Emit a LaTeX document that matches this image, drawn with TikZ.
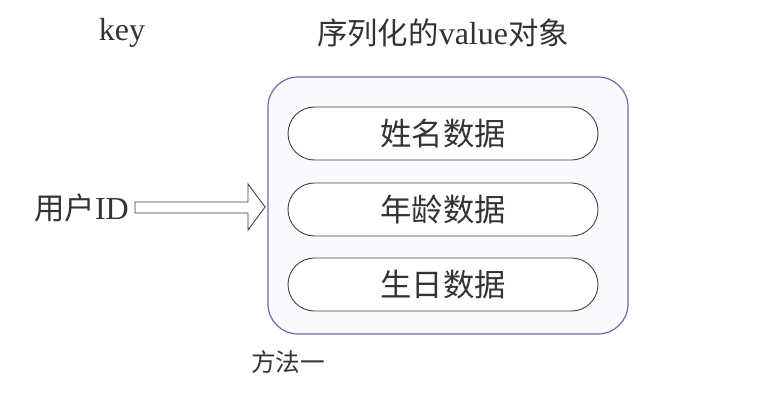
\documentclass[tikz,border=0pt]{standalone}
\usepackage{fontspec}
\setmainfont{Liberation Serif}
\newfontfamily\cjk{Noto Sans CJK SC}[Scale=0.95]
\usetikzlibrary{shapes.misc}
\definecolor{boxborder}{HTML}{6B6BAE}
\definecolor{boxfill}{HTML}{FAFAFE}
\definecolor{txt}{HTML}{333333}
\begin{document}
\begin{tikzpicture}[x=1pt,y=-1pt,
  pill/.style={draw=black!75, line width=0.9pt, rounded rectangle, minimum width=310pt, minimum height=53pt, fill=white, font=\cjk\fontsize{33}{38}\selectfont, text=txt, inner sep=0pt},
  lbl/.style={text=txt, inner sep=0pt}]
\useasboundingbox (0,0) rectangle (782,408);
\fill[white] (0,0) rectangle (782,408);
\node[draw=boxborder, fill=boxfill, line width=1.2pt, rounded corners=30pt, minimum width=360pt, minimum height=257pt, inner sep=0pt] (outer) at (448,205.5) {};
\node[pill] (p1) at (443,133.5) {姓名数据};
\node[pill] (p2) at (443,209.5) {年龄数据};
\node[pill] (p3) at (443,284.5) {生日数据};
\node[lbl, font=\fontsize{32}{36}\selectfont] (key) at (122,33) {key};
\node[lbl, font=\fontsize{32}{36}\selectfont] (val) at (443,33) {{\cjk 序列化的}value{\cjk 对象}};
\node[lbl, anchor=east, font=\fontsize{32}{36}\selectfont] (uid) at (129,208) {{\cjk 用户}ID};
\node[lbl, anchor=west, font=\cjk\fontsize{26}{29}\selectfont] (m1) at (251,362) {方法一};
\coordinate (tip) at (265,207);
\draw[line width=0.9pt, draw=black!75, fill=white]
  (135,202) -- (248,202) -- (248,184) -- (tip) -- (248,230) -- (248,213) -- (135,213) -- cycle;
\end{tikzpicture}
\end{document}
